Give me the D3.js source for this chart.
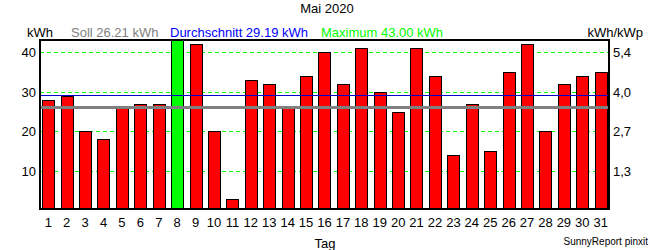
<!DOCTYPE html>
<html>
<head>
<meta charset="utf-8">
<script src="https://cdn.jsdelivr.net/npm/d3@7"></script>
<style>
  body { margin: 0; background: #fff; }
  text { font-family: "Liberation Sans", Arial, sans-serif; }
</style>
</head>
<body>
<svg id="chart" width="650" height="250"></svg>
<script>
// daily yield May 2020, kWh
var days = d3.range(1, 32);
var yields = [28, 29, 20, 18, 26, 27, 27, 43, 42, 20, 3, 33, 32, 26, 34, 40,
              32, 41, 30, 25, 41, 34, 14, 27, 15, 35, 42, 20, 32, 34, 35];
var leftTicks = [10, 20, 30, 40];
var rightTicks = ['1,3', '2,7', '4,0', '5,4'];
var soll = 26.21;

var svg = d3.select('#chart');
var avg = d3.mean(yields);
var maxVal = d3.max(yields);

var x = d3.scaleBand()
    .domain(days)
    .range([40, 609])
    .paddingInner(0.34)
    .paddingOuter(0.12);

var y = d3.scaleLinear()
    .domain([0, 43])
    .range([211, 40]);

function crisp(v) { return Math.round(v) + 0.5; }

// grid
svg.append('g').selectAll('line')
    .data(leftTicks)
    .enter().append('line')
    .attr('x1', 40).attr('x2', 609)
    .attr('y1', function(d) { return crisp(y(d)); })
    .attr('y2', function(d) { return crisp(y(d)); })
    .attr('stroke', '#00ff00')
    .attr('stroke-dasharray', '4,3');

// bars
svg.append('g').selectAll('rect')
    .data(yields)
    .enter().append('rect')
    .attr('x', function(d, i) { return Math.round(x(days[i])) + 0.5; })
    .attr('y', function(d) { return crisp(y(d)); })
    .attr('width', Math.round(x.bandwidth()))
    .attr('height', function(d) { return 209 - crisp(y(d)); })
    .attr('fill', function(d) { return d === maxVal ? '#00ff00' : '#ff0000'; })
    .attr('stroke', '#000')
    .attr('stroke-width', 1);

// soll + average lines
svg.append('line')
    .attr('x1', 40).attr('x2', 609)
    .attr('y1', crisp(y(soll))).attr('y2', crisp(y(soll)))
    .attr('stroke', '#808080').attr('stroke-width', 3);
svg.append('line')
    .attr('x1', 40).attr('x2', 609)
    .attr('y1', crisp(y(avg))).attr('y2', crisp(y(avg)))
    .attr('stroke', '#0000cc').attr('stroke-width', 1);

// frame
svg.append('rect')
    .attr('x', 40).attr('y', 40)
    .attr('width', 569).attr('height', 169)
    .attr('fill', 'none')
    .attr('stroke', '#000')
    .attr('stroke-width', 2);

// left axis labels
svg.append('g').selectAll('text')
    .data(leftTicks)
    .enter().append('text')
    .attr('x', 36)
    .attr('y', function(d) { return y(d) + 5; })
    .attr('text-anchor', 'end')
    .attr('font-size', 13)
    .text(function(d) { return d; });

// right axis labels (kWh/kWp)
svg.append('g').selectAll('text')
    .data(leftTicks)
    .enter().append('text')
    .attr('x', 613)
    .attr('y', function(d) { return y(d) + 5; })
    .attr('font-size', 13)
    .text(function(d, i) { return rightTicks[i]; });

// x labels
svg.append('g').selectAll('text')
    .data(days)
    .enter().append('text')
    .attr('x', function(d) { return x(d) + x.bandwidth() / 2; })
    .attr('y', 227)
    .attr('text-anchor', 'middle')
    .attr('font-size', 13)
    .text(function(d) { return d; });

svg.append('text').attr('x', 327).attr('y', 13).attr('text-anchor', 'middle')
    .attr('font-size', 13).text('Mai 2020');
svg.append('text').attr('x', 325).attr('y', 248).attr('text-anchor', 'middle')
    .attr('font-size', 13).text('Tag');
svg.append('text').attr('x', 648).attr('y', 245).attr('text-anchor', 'end')
    .attr('font-size', 10).text('SunnyReport pinxit');

// header row
var fmt = d3.format('.2f');
svg.append('text').attr('x', 27).attr('y', 37).attr('font-size', 13).text('kWh');
svg.append('text').attr('x', 71).attr('y', 37).attr('font-size', 13)
    .attr('fill', '#808080').text('Soll ' + fmt(soll) + ' kWh');
svg.append('text').attr('x', 170).attr('y', 37).attr('font-size', 13)
    .attr('fill', '#0000ff').text('Durchschnitt ' + fmt(avg) + ' kWh');
svg.append('text').attr('x', 321).attr('y', 37).attr('font-size', 13)
    .attr('fill', '#00ff00').text('Maximum ' + fmt(maxVal) + ' kWh');
svg.append('text').attr('x', 643).attr('y', 37).attr('text-anchor', 'end')
    .attr('font-size', 13).text('kWh/kWp');
</script>
</body>
</html>
